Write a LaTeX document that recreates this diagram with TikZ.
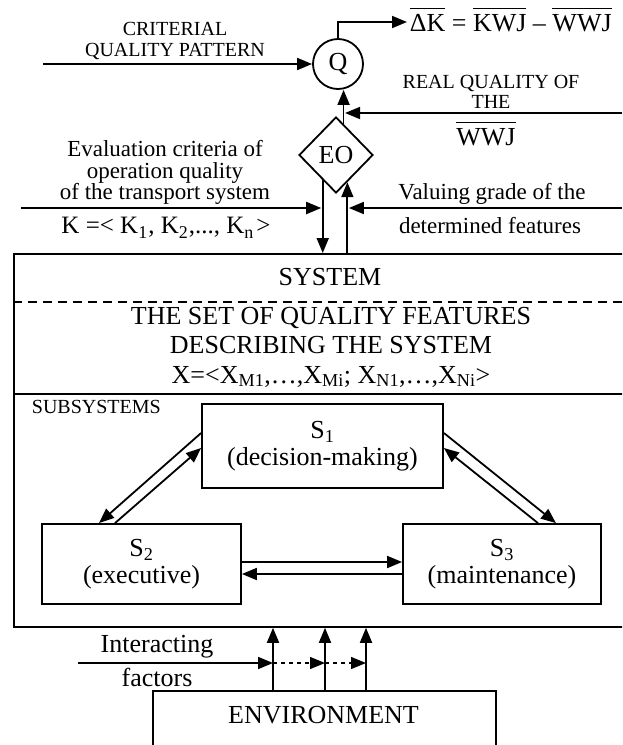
\documentclass[tikz,border=0pt]{standalone}
\usepackage{fontspec}
\setmainfont{Liberation Serif}
\usetikzlibrary{arrows.meta,shapes.geometric,calc}
\newcommand\fsz[2]{\fontsize{#1}{#2}\selectfont}
\newcommand\ovl[1]{\vbox{\hrule height 1.3pt\kern 5pt\hbox{#1}}}
\newcommand\ksub[1]{\raisebox{-5pt}{\fsz{18}{18}#1}}
\begin{document}
\begin{tikzpicture}[x=1pt,y=-1pt,line width=1.8pt,
  arr/.style={-{Triangle[length=15pt,width=12pt]}},
  box/.style={draw,line width=1.8pt,inner sep=0pt},
  txt/.style={inner sep=0pt,align=center,text=black},
  big/.style={font=\fsz{26}{27}},
  mid/.style={font=\fsz{23}{21.5}},
  small/.style={font=\fsz{20}{21}}]
\useasboundingbox (0,0) rectangle (622,745);
\clip (0,0) rectangle (622,745);

% main shapes
\node[circle,draw,minimum size=50pt,inner sep=0pt,big] (Q) at (338,64) {Q};
\node[diamond,draw,minimum width=74pt,minimum height=76pt,inner sep=0pt,big] (EO) at (336,155) {EO};
\node[box,minimum width=634pt,minimum height=373pt,anchor=north west] (sys) at (13,253) {};
\coordinate (dashL) at (13,302); \coordinate (dashR) at (647,302);
\draw[dash pattern=on 9pt off 6pt,line width=1.5pt] (dashL) -- (dashR);
\coordinate (solL) at (13,394); \coordinate (solR) at (647,394);
\draw (solL) -- (solR);

\node[txt,big] (systitle) at (330,277) {SYSTEM};
\node[txt,font=\fsz{26}{29.5}] (features) at (331,347) {THE SET OF QUALITY FEATURES\\DESCRIBING THE SYSTEM\\X=<X\textsubscript{M1},…,X\textsubscript{Mi}; X\textsubscript{N1},…,X\textsubscript{Ni}>};
\node[txt,small,anchor=west] (subs) at (31,407) {SUBSYSTEMS};

\node[box,txt,big,minimum width=241pt,minimum height=84pt] (S1) at (322.5,446) {S\textsubscript{1}\\(decision-making)};
\node[box,txt,big,minimum width=199pt,minimum height=80pt] (S2) at (141.5,564) {S\textsubscript{2}\\(executive)};
\node[box,txt,big,minimum width=198pt,minimum height=80pt] (S3) at (502,564) {S\textsubscript{3}\\(maintenance)};

\node[box,minimum width=343pt,minimum height=120pt,anchor=north west] (env) at (152,690) {};
\node[txt,big] (envtxt) at (323.5,715) {ENVIRONMENT};

% labels
\node[txt,small] (crit) at (175,40.5) {CRITERIAL\\QUALITY PATTERN};
\node[txt,font=\fsz{20}{19.5}] (realq) at (491,92) {REAL QUALITY OF\\THE};
\node[txt,big,anchor=base] (wwj) at (486,145) {\ovl{WWJ}};
\node[txt,big,anchor=base west] (dk) at (409,31) {\ovl{ΔK} = \ovl{KWJ} – \ovl{WWJ}};
\node[txt,mid] (evalc) at (165,172.5) {Evaluation criteria of\\operation quality\\of the transport system};
\node[txt,font=\fsz{25}{25},anchor=base] (kvec) at (166,233) {K =< K\ksub{1}\kern1pt, K\ksub{2}\kern1pt,..., K\ksub{n}\kern3pt >};
\node[txt,mid] (val1) at (492,194) {Valuing grade of the};
\node[txt,mid] (val2) at (490,226) {determined features};
\node[txt,big] (inter1) at (157,647) {Interacting};
\node[txt,big] (inter2) at (157,677) {factors};

% connectors top
\coordinate (critin) at (43,64);
\draw[arr] (critin) -- (Q.west);
\coordinate (dkin) at (407,22);
\draw[arr] (Q.north) |- (dkin);
\coordinate (pq) at ($(EO.north)!0.2!(EO.east)$);
\draw[arr] (pq) -- (pq |- Q.south);
\coordinate (rqin) at (622,113);
\draw[arr] (rqin) -- ($(rqin -| pq)+(1.5,0)$);
\coordinate (pd) at ($(EO.south)!0.35!(EO.west)$);
\draw[arr] (pd) -- (pd |- sys.north);
\coordinate (pu) at ($(EO.south)!0.3!(EO.east)$);
\draw[arr] (pu |- sys.north) -- (pu);
\coordinate (evin) at (21,208);
\draw[arr] (evin) -- ($(evin -| pd)+(-1.5,0)$);
\coordinate (valin) at (622,208);
\draw[arr] (valin) -- ($(valin -| pu)+(1.5,0)$);

% subsystem connectors
\draw[arr] ([yshift=13pt]S1.west) -- ([xshift=-42.5pt]S2.north);
\draw[arr] ([xshift=-26.5pt]S2.north) -- ([yshift=-2pt]S1.west);
\draw[arr] ([yshift=13pt]S1.east) -- ([xshift=54pt]S3.north);
\draw[arr] ([xshift=36pt]S3.north) -- ([yshift=-2pt]S1.east);
\draw[arr] ([yshift=2pt]S2.east) -- ([yshift=2pt]S3.west);
\draw[arr] ([yshift=-10pt]S3.west) -- ([yshift=-10pt]S2.east);

% environment connectors
\coordinate (e1) at (273,690);
\coordinate (e2) at (325,690);
\coordinate (e3) at (366,690);
\draw[arr] (e1) -- (e1 |- sys.south);
\draw[arr] (e2) -- (e2 |- sys.south);
\draw[arr] (e3) -- (e3 |- sys.south);
\coordinate (ifin) at (78,663);
\draw[arr] (ifin) -- (ifin -| e1);
\draw[arr,dash pattern=on 4pt off 4pt,line width=1.3pt] (ifin -| e1) -- (ifin -| e2);
\draw[arr,dash pattern=on 4pt off 4pt,line width=1.3pt] (ifin -| e2) -- (ifin -| e3);
\end{tikzpicture}
\end{document}
